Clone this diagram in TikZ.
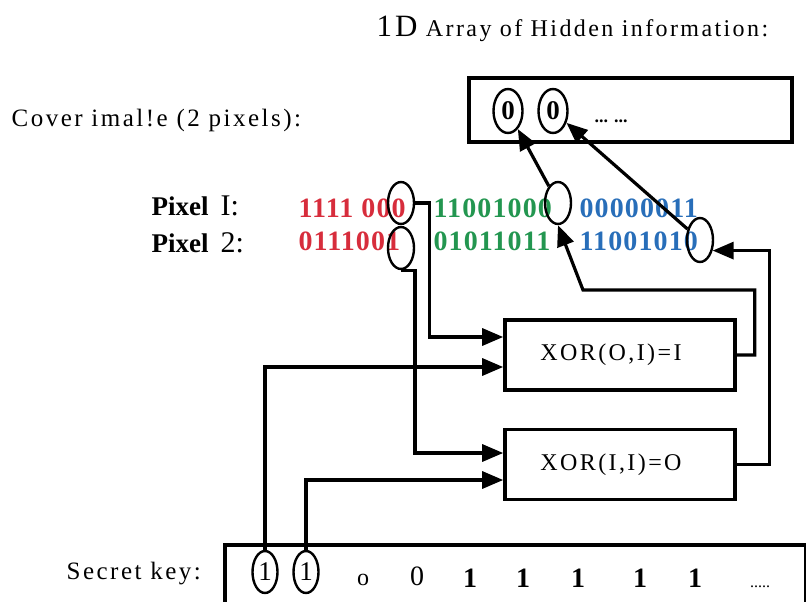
\documentclass[tikz,border=0pt]{standalone}
\usepackage{fontspec}
\setmainfont{Liberation Serif}
\newfontfamily\spaced[LetterSpace=10]{Liberation Serif}
\newfontfamily\bitfont[LetterSpace=4]{Liberation Serif}
\usetikzlibrary{positioning, shapes.geometric, arrows.meta}
\definecolor{bitred}{RGB}{215,45,60}
\definecolor{bitgreen}{RGB}{35,150,80}
\definecolor{bitblue}{RGB}{40,110,185}

\begin{document}
\begin{tikzpicture}[
  x=1pt, y=-1pt,
  >={Triangle[length=21pt,width=17pt]},
  line width=3.2pt,
  every node/.style={inner sep=0pt},
  lbl/.style={font=\spaced\fontsize{25}{29}\selectfont, anchor=base west},
  bits/.style={font=\bitfont\bfseries\fontsize{28}{32}\selectfont, anchor=base west},
  ring/.style={ellipse, draw, line width=2.4pt, minimum width=26pt, minimum height=42pt},
  gate/.style={draw, line width=3.6pt, minimum width=230pt, minimum height=70pt,
    font=\spaced\fontsize{24}{28}\selectfont},
  keybit/.style={font=\bfseries\fontsize{28}{32}\selectfont, anchor=base}
]
\useasboundingbox (0,0) rectangle (806,602);

% Hidden information and cover image
\node[lbl] (title) at (375,37) {{\fontsize{31}{34}\selectfont 1D}\fontsize{24}{28}\selectfont\ Array of Hidden information:};
\node[lbl] (coverlbl) at (10,126) {Cover imal!e (2 pixels):};
\draw[line width=3.6pt] (469,78) rectangle (792,142);
\node[ring, minimum width=29pt, minimum height=44pt, font=\bfseries\fontsize{27}{30}\selectfont] (c1) at (508,111) {0};
\node[ring, minimum width=29pt, minimum height=44pt, font=\bfseries\fontsize{27}{30}\selectfont] (c2) at (553,111) {0};
\node[font=\bfseries\fontsize{18}{20}\selectfont, anchor=base west] (cdots) at (593,122) {... ...};

% Pixel values
\node[anchor=base west] (px1) at (150,215) {{\bfseries\fontsize{27}{30}\selectfont Pixel}\hspace{12pt}{\fontsize{30}{34}\selectfont I:}};
\node[anchor=base west] (px2) at (150,252) {{\bfseries\fontsize{27}{30}\selectfont Pixel}\hspace{12pt}{\fontsize{30}{34}\selectfont 2:}};
\node[bits, text=bitred] (red1) at (297,217) {1111 000};
\node[bits, text=bitred] (red2) at (297,250) {0111001};
\node[bits, text=bitgreen] (green1) at (432,217) {11001000};
\node[bits, text=bitgreen] (green2) at (432,250) {01011011};
\node[bits, text=bitblue] (blue1) at (578,217) {00000011};
\node[bits, text=bitblue] (blue2) at (578,250) {11001010};
\node[ring] (r1) at (401,203) {};
\node[ring] (r2) at (401,248) {};
\node[ring] (g1) at (558,203) {};
\node[ring, minimum height=44pt] (b2) at (700,240) {};

% XOR gates
\node[gate] (xor1) at (620,355) {XOR(O,I)=I\hspace*{18pt}};
\node[gate] (xor2) at (620,464.5) {XOR(I,I)=O\hspace*{18pt}};

% Secret key
\node[lbl, anchor=base west] (keylbl) at (65,579) {Secret key:};
\draw[line width=3.6pt] (225,545) rectangle (806,615);
\node[ring, minimum width=25pt, font=\fontsize{27}{30}\selectfont] (k1) at (265,572) {1};
\node[ring, minimum width=25pt, font=\fontsize{27}{30}\selectfont] (k2) at (306,572) {1};
\node[font=\fontsize{24}{28}\selectfont, anchor=base] (ko) at (363,585) {o};
\node[font=\fontsize{28}{32}\selectfont, anchor=base] (kz) at (417,585) {0};
\foreach \x in {470,523,578,640,695}
  \node[keybit] (kb\x) at (\x,587) {1};
\node[font=\fontsize{16}{18}\selectfont, anchor=base] (kdots) at (760,587) {.....};

% Connectors
\coordinate (bend1) at (583,290);
\draw[->] (r1.east) -- ++(14,0) |- ([yshift=18pt]xor1.west);
\draw[->] (r2.south) -- ++(14,0) |- ([yshift=11.5pt]xor2.west);
\draw[->] (k1.north) |- ([yshift=-12pt]xor1.west);
\draw[->] (k2.north) |- ([yshift=-15.5pt]xor2.west);
\draw[->] (xor1.east) -- ++(18,0) -- ++(0,-65) -- (bend1) -- (g1.south);
\draw[->] (xor2.east) -- ++(33,0) |- (b2.-40);
\draw[->] (g1) -- (c1);
\draw[->] (b2) -- (c2);

\end{tikzpicture}
\end{document}
